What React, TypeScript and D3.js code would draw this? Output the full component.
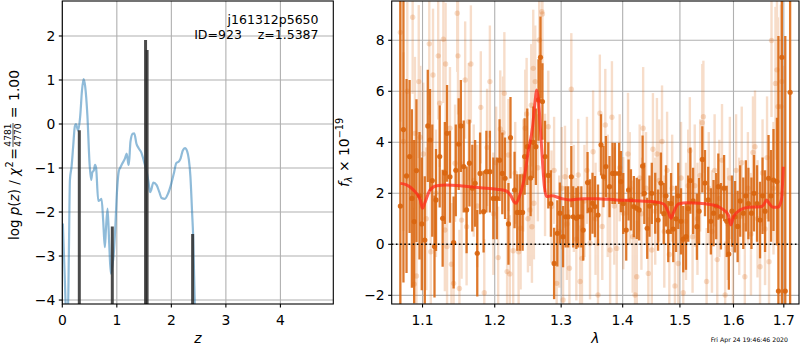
import React from "react";
import * as d3 from "d3";

// ---------- left panel: p(z) ----------
const pzZ = [0.01,0.04,0.07,0.10,0.12,0.14,0.17,0.20,0.23,0.25,0.29,0.33,0.36,0.39,0.42,0.46,0.50,0.53,0.55,0.58,0.60,0.62,0.66,0.70,0.72,0.75,0.78,0.80,0.83,0.86,0.89,0.92,0.94,0.97,1.00,1.04,1.06,1.10,1.15,1.18,1.21,1.22,1.25,1.29,1.32,1.36,1.40,1.45,1.50,1.55,1.58,1.61,1.63,1.67,1.73,1.78,1.82,1.88,1.94,2.00,2.05,2.09,2.14,2.17,2.21,2.25,2.29,2.32,2.35,2.38,2.40,2.43,2.45];
const pzLog = [-2.26,-3.3,-4.3,-4.5,-3.0,-1.27,-0.97,-0.5,-0.05,0.0,-0.15,0.2,0.75,1.02,0.85,0.2,-0.9,-1.27,-1.1,-1.05,-0.93,-1.0,-1.75,-1.72,-1.7,-2.2,-2.8,-2.4,-1.92,-2.7,-3.4,-3.2,-3.0,-2.4,-1.6,-1.05,-1.0,-0.9,-0.78,-0.67,-0.9,-0.93,-0.4,-0.22,-0.21,-0.45,-0.55,-0.65,-0.86,-1.1,-1.31,-1.55,-1.5,-1.33,-1.39,-1.55,-1.68,-1.7,-1.58,-1.35,-1.1,-0.89,-0.85,-0.78,-0.6,-0.55,-0.62,-0.8,-1.2,-2.0,-2.55,-4.1,-4.5];
const barZ = [0.312, 0.917, 1.527, 1.555, 2.39];
const barLog = [-0.14, -2.33, 1.91, 1.68, -2.5];
const zTicks = [0, 1, 2, 3, 4];
const logTicks = [-4, -3, -2, -1, 0, 1, 2];

// ---------- right panel: spectrum ----------
const darkWave = [1.071,1.075,1.079,1.083,1.086,1.089,1.092,1.096,1.099,1.103,1.107,1.110,1.113,1.116,1.118,1.123,1.127,1.130,1.133,1.137,1.142,1.145,1.149,1.152,1.156,1.160,1.164,1.168,1.172,1.175,1.179,1.184,1.188,1.193,1.198,1.203,1.207,1.211,1.215,1.220,1.223,1.229,1.233,1.237,1.241,1.244,1.248,1.253,1.257,1.261,1.265,1.268,1.271,1.275,1.280,1.284,1.289,1.294,1.298,1.303,1.307,1.311,1.316,1.319,1.324,1.327,1.332,1.335,1.342,1.346,1.350,1.354,1.359,1.364,1.368,1.372,1.378,1.383,1.387,1.394,1.397,1.401,1.406,1.410,1.414,1.419,1.424,1.428,1.434,1.437,1.442,1.446,1.450,1.456,1.461,1.466,1.471,1.475,1.479,1.484,1.488,1.493,1.497,1.502,1.506,1.511,1.515,1.519,1.524,1.531,1.535,1.541,1.546,1.552,1.557,1.562,1.567,1.571,1.576,1.582,1.587,1.591,1.597,1.603,1.608,1.613,1.619,1.624,1.629,1.635,1.640,1.646,1.652,1.657,1.662,1.669,1.674,1.679,1.686,1.689,1.696,1.703,1.713];
const darkFlux = [1.5,4.5,2.68,3.44,1.8,0.89,2.89,1.9,0.8,0.17,4.64,4.09,2.5,-0.09,1.74,3.44,1.02,2.8,4.35,2.65,0.07,2.9,3.93,4.64,3.05,1.35,3.18,2.2,2.39,-0.35,2.78,1.28,2.85,2.85,1.80,1.80,3.3,2.78,2.59,0.80,4.18,2.13,1.25,1.25,1.25,3.44,3.83,2.6,4.0,3.83,5.66,7.33,5.6,3.44,2.7,1.6,-0.75,0.43,1.22,0.3,1.08,1.08,2.65,1.08,1.02,1.08,1.08,0.56,2.42,1.35,1.61,1.48,1.15,3.9,2.65,3.05,2.26,2.78,2.78,2.78,2.46,1.6,0.56,2.13,1.74,1.48,1.41,1.35,3.07,2.0,0.63,1.5,2.0,1.61,0.95,2.4,1.2,1.9,0.5,1.6,0.6,1.0,1.9,0.9,0.2,0.3,1.4,2.5,1.7,0.69,1.3,3.33,2.4,1.74,0.9,1.22,1.5,2.26,1.1,2.2,0.9,-0.38,1.3,1.08,0.7,1.7,1.22,1.9,1.6,1.22,2.0,1.6,0.95,1.9,1.3,2.59,1.9,2.52,2.46,-1.83,7.33,-1.83,5.96];
const darkErr = [8.5,6.0,3.8,3.0,3.5,3.2,2.8,2.5,2.6,2.5,2.2,2.0,2.2,2.0,2.0,2.0,1.9,2.0,1.9,1.8,1.8,1.8,1.8,1.8,1.8,1.7,1.7,1.7,1.7,1.7,1.6,1.6,1.6,1.6,1.6,1.6,1.6,1.6,1.6,1.6,1.6,1.5,1.5,1.5,1.5,1.5,1.5,1.5,1.4,1.5,1.6,1.6,1.5,1.4,1.3,1.3,1.4,1.3,1.2,1.2,1.2,1.2,1.2,1.2,1.2,1.2,1.2,1.2,1.2,1.2,1.2,1.2,1.2,1.2,1.2,1.2,1.2,1.2,1.2,1.2,1.2,1.2,1.2,1.2,1.2,1.2,1.2,1.2,1.2,1.2,1.2,1.2,1.2,1.2,1.2,1.2,1.2,1.2,1.2,1.2,1.3,1.3,1.3,1.3,1.3,1.3,1.3,1.3,1.3,1.3,1.3,1.3,1.3,1.3,1.3,1.3,1.3,1.3,1.3,1.3,1.4,1.4,1.4,1.4,1.4,1.4,1.4,1.4,1.4,1.4,1.5,1.5,1.5,1.5,1.6,1.7,1.8,2.0,2.5,10,10,10,10];

const lightWave = [1.071,1.075,1.080,1.087,1.089,1.090,1.092,1.095,1.097,1.101,1.105,1.109,1.111,1.114,1.118,1.121,1.123,1.128,1.130,1.131,1.133,1.137,1.139,1.142,1.144,1.147,1.148,1.150,1.153,1.158,1.160,1.163,1.166,1.170,1.175,1.180,1.185,1.189,1.193,1.198,1.202,1.205,1.208,1.212,1.214,1.218,1.220,1.222,1.227,1.230,1.235,1.238,1.242,1.245,1.247,1.249,1.252,1.254,1.255,1.257,1.258,1.260,1.264,1.266,1.270,1.271,1.275,1.280,1.285,1.289,1.293,1.297,1.301,1.303,1.306,1.309,1.313,1.316,1.320,1.324,1.327,1.330,1.333,1.337,1.341,1.346,1.351,1.355,1.359,1.362,1.366,1.371,1.375,1.379,1.382,1.386,1.390,1.395,1.401,1.409,1.412,1.417,1.421,1.424,1.429,1.432,1.435,1.440,1.444,1.450,1.452,1.456,1.459,1.463,1.468,1.472,1.477,1.481,1.486,1.491,1.497,1.502,1.506,1.511,1.515,1.518,1.523,1.527,1.532,1.537,1.541,1.543,1.549,1.553,1.559,1.564,1.569,1.573,1.578,1.584,1.589,1.593,1.599,1.605,1.611,1.616,1.622,1.628,1.634,1.638,1.642,1.647,1.652,1.657,1.662,1.666,1.670,1.675,1.679,1.683,1.686,1.688,1.694,1.696,1.698];
const lightFlux = [8.31,4.03,6.0,8.9,-1.56,4.35,-1.24,6.38,4.2,3.54,1.0,7.86,-0.29,6.64,2.0,7.39,5.53,8.04,0.56,7.07,-0.09,4.55,-0.78,-1.53,3.18,9.06,7.39,-1.73,0.95,6.44,0.69,4.81,7.07,2.5,1.5,5.37,-1.9,3.8,6.38,1.2,3.2,-0.52,4.52,4.38,5.92,-1.07,3.5,-1.16,-0.25,2.8,-0.29,0.63,2.7,4.55,5.11,1.0,1.35,5.45,0.69,6.9,1.61,6.38,3.0,8.01,9.12,9.03,2.72,4.61,1.48,2.9,-1.53,0.5,2.2,-2.18,2.65,0.8,-0.94,6.08,1.8,0.2,2.72,-1.46,-0.55,1.7,2.9,0.04,3.63,1.0,-1.99,5.14,0.7,4.68,1.9,-0.22,4.98,1.5,-0.16,3.0,1.22,3.54,2.2,0.3,-1.99,-1.27,2.6,1.2,4.55,2.2,-1.14,-0.22,3.73,1.3,3.54,2.5,4.03,0.5,2.9,-0.4,2.2,-1.63,-0.75,2.6,-1.9,0.9,2.3,3.67,0.3,2.3,1.0,2.7,4.77,5.0,-1.46,2.2,0.5,2.9,-0.6,1.8,3.3,-1.99,0.8,2.6,-0.2,2.9,1.1,3.2,-1.27,2.2,0.4,3.6,3.83,1.0,-0.88,2.8,0.6,3.4,-0.68,7.99,2.2,6.31,6.84,5.4,5.4,6.38,2.0];
const lightErr = [3.5,3.5,3.5,3.0,3.0,3.0,3.0,3.0,2.8,2.8,2.8,2.8,2.6,2.6,2.5,2.5,2.5,2.5,2.4,2.4,2.4,2.4,2.4,2.4,2.3,2.3,2.3,2.3,2.3,2.3,2.3,2.3,2.3,2.2,2.4,2.2,2.1,2.3,2.2,2.4,2.2,2.0,2.3,2.2,2.4,2.1,2.2,2.3,2.2,2.0,2.2,2.4,2.2,2.3,2.2,2.1,2.2,2.4,2.2,2.3,2.2,2.2,2.1,2.3,2.2,2.2,2.4,2.2,2.2,2.1,2.3,2.2,2.4,2.2,2.0,2.2,2.3,2.2,2.1,2.4,2.2,2.2,2.3,2.2,2.1,2.2,2.4,2.2,2.2,2.3,2.1,2.2,2.4,2.2,2.2,2.3,2.2,2.1,2.2,2.4,2.2,2.2,2.3,2.2,2.1,2.2,2.4,2.2,2.2,2.3,2.2,2.1,2.2,2.4,2.2,2.2,2.3,2.2,2.1,2.2,2.4,2.2,2.2,2.3,2.2,2.1,2.2,2.4,2.2,2.2,2.3,2.2,2.1,2.2,2.4,2.2,2.2,2.3,2.2,2.1,2.2,2.4,2.2,2.2,2.3,2.2,2.1,2.2,2.4,2.2,2.2,2.3,2.2,2.1,2.2,2.4,2.5,3.0,2.6,3.0,3.0,3.5,4.0,4.0,5.0];

const modelWave = [1.071,1.079,1.088,1.097,1.100,1.103,1.110,1.119,1.132,1.155,1.179,1.203,1.216,1.223,1.228,1.231,1.236,1.243,1.249,1.256,1.260,1.262,1.265,1.269,1.274,1.277,1.285,1.300,1.314,1.335,1.357,1.389,1.421,1.454,1.471,1.479,1.484,1.488,1.497,1.514,1.536,1.561,1.577,1.590,1.595,1.600,1.613,1.630,1.652,1.659,1.665,1.670,1.678,1.688,1.695,1.699];
const modelFlux = [2.39,2.33,2.13,1.74,1.41,1.62,2.13,2.30,2.33,2.29,2.22,2.16,2.10,1.93,1.67,1.61,1.87,2.52,3.57,4.61,5.66,6.05,5.66,4.09,2.26,1.87,1.90,1.80,1.74,1.79,1.79,1.74,1.71,1.67,1.58,1.28,1.02,1.22,1.58,1.63,1.61,1.54,1.41,1.15,0.76,1.08,1.35,1.45,1.47,1.54,1.74,1.61,1.45,1.45,1.74,3.04];

const lamTicks = [1.1, 1.2, 1.3, 1.4, 1.5, 1.6, 1.7];
const fluxTicks = [-2, 0, 2, 4, 6, 8];

const FONT = "DejaVu Sans, Liberation Sans, sans-serif";
const ORANGE = "#d9650e";
const fmtMinus = (v: number, f: (n: number) => string) => (v < 0 ? "\u2212" + f(-v) : f(v));

export default function App() {
  const L = { x0: 62.3, x1: 333.3, y0: 1, y1: 304 };
  const R = { x0: 391.7, x1: 799, y0: 1, y1: 304 };

  const zx = d3.scaleLinear().domain([0, 4.97]).range([L.x0, L.x1]);
  const zy = d3.scaleLinear().domain([-4.09, 2.795]).range([L.y1, L.y0]);
  const lx = d3.scaleLog().domain([1.0599, 1.7314]).range([R.x0, R.x1]);
  const fy = d3.scaleLinear().domain([-2.34, 9.54]).range([R.y1, R.y0]);

  const pzLine = d3
    .line<number>()
    .x((_, i) => zx(pzZ[i]))
    .y((d) => zy(d))
    .curve(d3.curveMonotoneX)(pzLog) as string;

  const modelLine = d3
    .line<number>()
    .x((_, i) => lx(modelWave[i]))
    .y((d) => fy(d))
    .curve(d3.curveMonotoneX)(modelFlux) as string;

  const tickFs = 13.9;
  const grid = "#b0b0b0";

  return (
    <svg
      width={800}
      height={350}
      style={{ position: "fixed", left: 0, top: 0, background: "white" }}
      fontFamily={FONT}
    >
      <defs>
        <clipPath id="clipL">
          <rect x={L.x0} y={L.y0} width={L.x1 - L.x0} height={L.y1 - L.y0} />
        </clipPath>
        <clipPath id="clipR">
          <rect x={R.x0} y={R.y0} width={R.x1 - R.x0} height={R.y1 - R.y0} />
        </clipPath>
      </defs>
      <rect x={0} y={0} width={800} height={350} fill="white" />

      {/* ---------- LEFT PANEL ---------- */}
      <g>
        {zTicks.map((t) => (
          <line key={"gzx" + t} x1={zx(t)} x2={zx(t)} y1={L.y0} y2={L.y1} stroke={grid} strokeWidth={1.1} />
        ))}
        {logTicks.map((t) => (
          <line key={"gzy" + t} x1={L.x0} x2={L.x1} y1={zy(t)} y2={zy(t)} stroke={grid} strokeWidth={1.1} />
        ))}
        <g clipPath="url(#clipL)">
          <path d={pzLine} fill="none" stroke="#1f77b4" strokeOpacity={0.5} strokeWidth={2.2} />
          {barZ.map((z, i) => (
            <line
              key={"bar" + i}
              x1={zx(z)}
              x2={zx(z)}
              y1={L.y1}
              y2={zy(barLog[i])}
              stroke="#2b2b2b"
              strokeOpacity={0.85}
              strokeWidth={3}
            />
          ))}
        </g>
        <rect x={L.x0} y={L.y0} width={L.x1 - L.x0} height={L.y1 - L.y0} fill="none" stroke="black" strokeWidth={1.1} />
        {zTicks.map((t) => (
          <g key={"tzx" + t}>
            <line x1={zx(t)} x2={zx(t)} y1={L.y1} y2={L.y1 + 3.5} stroke="black" strokeWidth={1.1} />
            <text x={zx(t)} y={325} fontSize={tickFs} textAnchor="middle">
              {String(t)}
            </text>
          </g>
        ))}
        {logTicks.map((t) => (
          <g key={"tzy" + t}>
            <line x1={L.x0 - 3.5} x2={L.x0} y1={zy(t)} y2={zy(t)} stroke="black" strokeWidth={1.1} />
            <text x={L.x0 - 7} y={zy(t) + 5} fontSize={tickFs} textAnchor="end">
              {fmtMinus(t, (n) => String(n))}
            </text>
          </g>
        ))}
        <text x={318.5} y={24} fontSize={12.5} textAnchor="end">
          j161312p5650
        </text>
        <text x={318.5} y={38.5} fontSize={12.5} textAnchor="end" style={{ whiteSpace: "pre" }}>
          {"ID=923    z=1.5387"}
        </text>
        <text x={(L.x0 + L.x1) / 2} y={343} fontSize={tickFs} textAnchor="middle" fontStyle="italic">
          z
        </text>
        <g transform="translate(18.5,154) rotate(-90)" fontSize={tickFs}>
          <text x={-86} y={0} textLength={72} lengthAdjust="spacingAndGlyphs">
            log <tspan fontStyle="italic">p</tspan>(<tspan fontStyle="italic">z</tspan>) / <tspan fontStyle="italic">χ</tspan>
          </text>
          <text x={-13.5} y={-6} fontSize={9.7}>2</text>
          <text x={0} y={0} textAnchor="middle">=</text>
          <text x={19} y={-7.5} fontSize={9.2} textAnchor="middle">4781</text>
          <line x1={7} x2={31} y1={-5.5} y2={-5.5} stroke="black" strokeWidth={0.7} />
          <text x={19} y={2} fontSize={9.2} textAnchor="middle">4770</text>
          <text x={41.5} y={0} textAnchor="middle">=</text>
          <text x={84} y={0} textAnchor="end">1.00</text>
        </g>
      </g>

      {/* ---------- RIGHT PANEL ---------- */}
      <g>
        {lamTicks.map((t) => (
          <line key={"glx" + t} x1={lx(t)} x2={lx(t)} y1={R.y0} y2={R.y1} stroke={grid} strokeWidth={1.1} />
        ))}
        {fluxTicks.map((t) => (
          <line key={"gfy" + t} x1={R.x0} x2={R.x1} y1={fy(t)} y2={fy(t)} stroke={grid} strokeWidth={1.1} />
        ))}
        <g clipPath="url(#clipR)">
          <g opacity={0.22}>
            {lightWave.map((w, i) => (
              <line
                key={"le" + i}
                x1={lx(w)}
                x2={lx(w)}
                y1={fy(lightFlux[i] - lightErr[i])}
                y2={fy(lightFlux[i] + lightErr[i])}
                stroke={ORANGE}
                strokeWidth={2.4}
              />
            ))}
          </g>
          {lightWave.map((w, i) => (
            <circle key={"lp" + i} cx={lx(w)} cy={fy(lightFlux[i])} r={2.7} fill={ORANGE} fillOpacity={0.22} />
          ))}
          {darkWave.map((w, i) => (
            <line
              key={"de" + i}
              x1={lx(w)}
              x2={lx(w)}
              y1={fy(darkFlux[i] - darkErr[i])}
              y2={fy(darkFlux[i] + darkErr[i])}
              stroke={ORANGE}
              strokeOpacity={0.88}
              strokeWidth={2.3}
            />
          ))}
          {darkWave.map((w, i) => (
            <circle key={"dp" + i} cx={lx(w)} cy={fy(darkFlux[i])} r={2.6} fill={ORANGE} fillOpacity={0.92} />
          ))}
          <path d={modelLine} fill="none" stroke="#ff2a1a" strokeOpacity={0.75} strokeWidth={3} strokeLinejoin="round" />
          <line x1={R.x0} x2={R.x1} y1={fy(0)} y2={fy(0)} stroke="black" strokeWidth={1.6} strokeDasharray="1.6,2.6" />
        </g>
        <rect x={R.x0} y={R.y0} width={R.x1 - R.x0} height={R.y1 - R.y0} fill="none" stroke="black" strokeWidth={1.1} />
        {lamTicks.map((t) => (
          <g key={"tlx" + t}>
            <line x1={lx(t)} x2={lx(t)} y1={R.y1} y2={R.y1 + 3.5} stroke="black" strokeWidth={1.1} />
            <text x={lx(t)} y={325} fontSize={tickFs} textAnchor="middle">
              {t.toFixed(1)}
            </text>
          </g>
        ))}
        {fluxTicks.map((t) => (
          <g key={"tfy" + t}>
            <line x1={R.x0 - 3.5} x2={R.x0} y1={fy(t)} y2={fy(t)} stroke="black" strokeWidth={1.1} />
            <text x={R.x0 - 7} y={fy(t) + 5} fontSize={tickFs} textAnchor="end">
              {fmtMinus(t, (n) => String(n))}
            </text>
          </g>
        ))}
        <text x={(R.x0 + R.x1) / 2} y={343} fontSize={tickFs} textAnchor="middle" fontStyle="italic">
          λ
        </text>
        <text transform="translate(349,152.5) rotate(-90)" textAnchor="middle" fontSize={tickFs}>
          <tspan fontStyle="italic">f</tspan>
          <tspan fontSize={9.7} dy={3} fontStyle="italic">λ</tspan>
          <tspan dy={-3}> × 10</tspan>
          <tspan fontSize={9.7} dy={-6}>−19</tspan>
        </text>
        <text x={788} y={342} fontSize={6.2} textAnchor="end">
          Fri Apr 24 19:46:46 2020
        </text>
      </g>
    </svg>
  );
}
